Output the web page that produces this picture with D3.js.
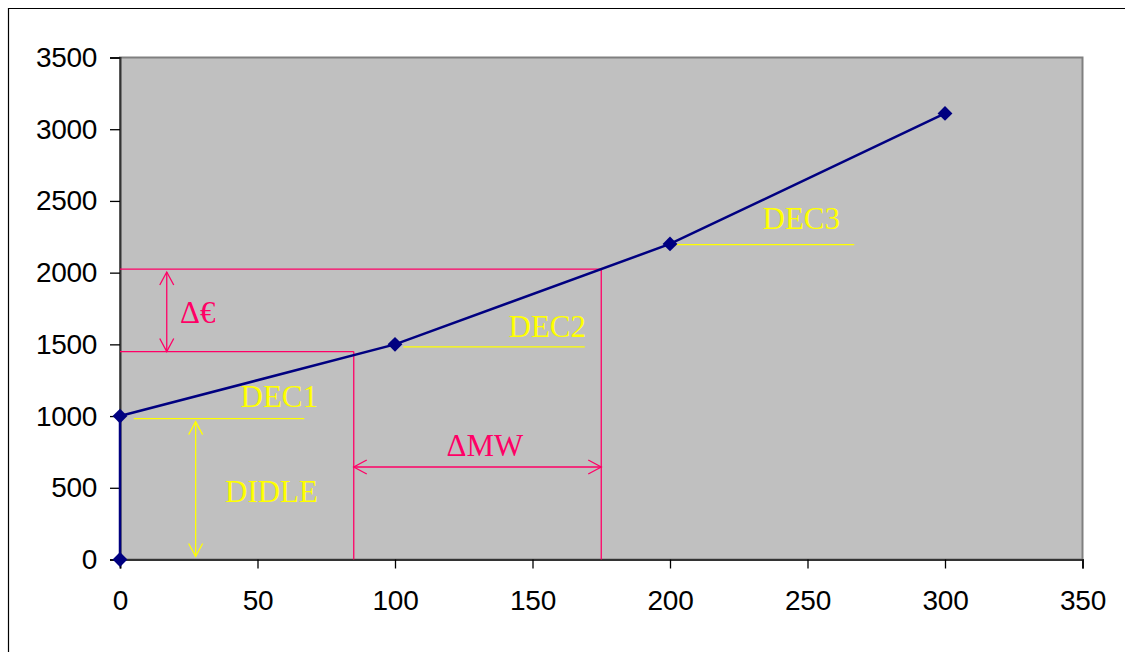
<!DOCTYPE html>
<html><head><meta charset="utf-8">
<script src="https://cdn.jsdelivr.net/npm/d3@7"></script>
<style>body{margin:0;background:#fff}svg{display:block}</style>
</head><body>
<svg id="c" width="1125" height="652"></svg>
<script>
// Data
const xValues = [0, 0, 100, 200, 300];
const yValues = [0, 1000, 1500, 2200, 3110];
const xTicks = [0, 50, 100, 150, 200, 250, 300, 350];
const yTicks = [0, 500, 1000, 1500, 2000, 2500, 3000, 3500];
// annotation values (data coords)
const redHLines = [[0, 85, 1450], [0, 175, 2025]];   // x0, x1, y
const redVLines = [[85, 0, 1450], [175, 0, 2025]];   // x, y0, y1
const euroArrow = [17, 1450, 2025];                  // x, y0, y1
const mwArrow = [85, 175, 645];                      // x0, x1, y
const decLines = [[5, 67, 982], [103, 169, 1482], [201, 267, 2195]];
const idleArrow = [27.5, 0, 982];

const svg = d3.select("#c");
const L = 120, R = 1082.5, T = 57.5, B = 559.5;
const x = d3.scaleLinear().domain([0, 350]).range([L, R]);
const y = d3.scaleLinear().domain([0, 3500]).range([B, T]);

// outer border
svg.append("path").attr("d", "M8.5,652 V8.5 H1125").attr("fill", "none").attr("stroke", "#000").attr("stroke-width", 1.2);

// plot area
svg.append("rect").attr("x", L).attr("y", T).attr("width", R - L).attr("height", B - T)
  .attr("fill", "#C0C0C0").attr("stroke", "#808080").attr("stroke-width", 2);

// axes
const ax = svg.append("g").attr("transform", `translate(0,${B})`)
  .call(d3.axisBottom(x).tickValues(xTicks).tickSize(9).tickPadding(22).tickFormat(d3.format("d")));
const ay = svg.append("g").attr("transform", `translate(${L},0)`)
  .call(d3.axisLeft(y).tickValues(yTicks).tickSize(10).tickPadding(13).tickFormat(d3.format("d")));
[ax, ay].forEach(g => {
  g.select(".domain").attr("stroke", "#333").attr("stroke-width", 2);
  g.selectAll(".tick line").attr("stroke", "#000").attr("stroke-width", 1.3);
  g.selectAll("text").attr("font-family", "Liberation Sans, Arial, sans-serif")
    .attr("font-size", 28).attr("fill", "#000").attr("letter-spacing", -0.3);
});
ax.selectAll("text").attr("dy", "0.71em");

const red = "#FF0066", yel = "#FFFF00";
const ann = svg.append("g");

function arrowHead(g, px, py, dx, dy, color) {
  const len = 13, w = 7;
  const nx = -dy, ny = dx;
  const bx = px - dx * len, by = py - dy * len;
  g.append("path").attr("d", `M${bx + nx * w},${by + ny * w} L${px},${py} L${bx - nx * w},${by - ny * w}`)
    .attr("fill", "none").attr("stroke", color).attr("stroke-width", 1.3);
}

redHLines.forEach(d => ann.append("line").attr("x1", x(d[0])).attr("x2", x(d[1])).attr("y1", y(d[2])).attr("y2", y(d[2]))
  .attr("stroke", red).attr("stroke-width", 1.3));
redVLines.forEach(d => ann.append("line").attr("x1", x(d[0])).attr("x2", x(d[0])).attr("y1", y(d[1])).attr("y2", y(d[2]))
  .attr("stroke", red).attr("stroke-width", 1.3));

{
  const ex = x(euroArrow[0]), ey0 = y(euroArrow[1]), ey1 = y(euroArrow[2]);
  ann.append("line").attr("x1", ex).attr("x2", ex).attr("y1", ey0).attr("y2", ey1 + 3).attr("stroke", red).attr("stroke-width", 1.3);
  arrowHead(ann, ex, ey1 + 3, 0, -1, red);
  arrowHead(ann, ex, ey0, 0, 1, red);
}
{
  const mx0 = x(mwArrow[0]), mx1 = x(mwArrow[1]), my = y(mwArrow[2]);
  ann.append("line").attr("x1", mx0).attr("x2", mx1).attr("y1", my).attr("y2", my).attr("stroke", red).attr("stroke-width", 1.3);
  arrowHead(ann, mx0, my, -1, 0, red);
  arrowHead(ann, mx1, my, 1, 0, red);
}
decLines.forEach(d => ann.append("line").attr("x1", x(d[0])).attr("x2", x(d[1])).attr("y1", y(d[2])).attr("y2", y(d[2]))
  .attr("stroke", yel).attr("stroke-width", 1.3));
{
  const ix = x(idleArrow[0]), iy0 = y(idleArrow[1]), iy1 = y(idleArrow[2]);
  ann.append("line").attr("x1", ix).attr("x2", ix).attr("y1", iy0 - 3).attr("y2", iy1 + 3).attr("stroke", yel).attr("stroke-width", 1.3);
  arrowHead(ann, ix, iy1 + 3, 0, -1, yel);
  arrowHead(ann, ix, iy0 - 3, 0, 1, yel);
}

const serif = "Liberation Serif, Times New Roman, serif";
function label(txt, px, py, color, anchor) {
  ann.append("text").attr("x", px).attr("y", py).attr("fill", color).attr("font-family", serif)
    .attr("font-size", 31).attr("text-anchor", anchor || "start").text(txt);
}
label("DEC1", 318, 407, yel, "end");
label("DEC2", 586, 337, yel, "end");
label("DEC3", 840, 229, yel, "end");
label("DIDLE", 318, 502, yel, "end");
label("Δ€", 180, 323, red, "start");
label("ΔMW", 485, 456, red, "middle");

const line = d3.line().x((d, i) => x(xValues[i])).y((d, i) => y(yValues[i]));
svg.append("path").datum(yValues).attr("d", line).attr("fill", "none").attr("stroke", "#000080").attr("stroke-width", 2.5);
svg.append("g").selectAll("path").data(yValues).join("path")
  .attr("d", d3.symbol(d3.symbolSquare, 110))
  .attr("transform", (d, i) => `translate(${x(xValues[i])},${y(d)}) rotate(45)`)
  .attr("fill", "#000080");
</script>
</body></html>
